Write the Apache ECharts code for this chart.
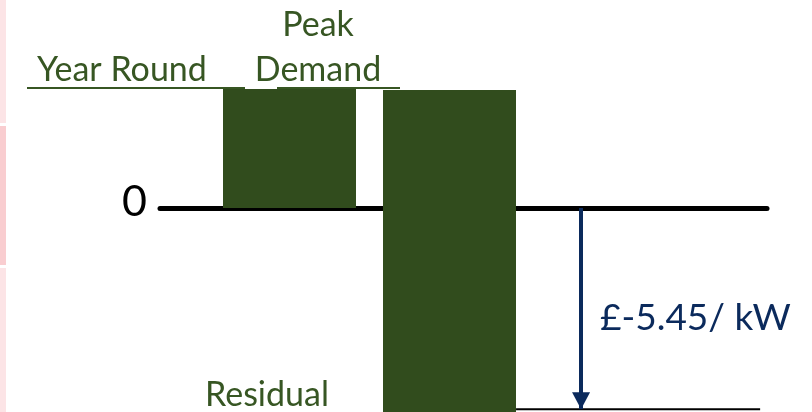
<!DOCTYPE html>
<html>
<head>
<meta charset="utf-8">
<script src="https://cdn.jsdelivr.net/npm/echarts@6/dist/echarts.min.js"></script>
<style>html,body{margin:0;padding:0;background:#fff}#c{width:812px;height:412px}</style>
</head>
<body>
<div id="c"></div>
<script>
// ---- data ----
const categories = ['Year Round', 'Peak Demand', 'Residual'];
const barX = [0.811, 1.813];            // x position of each bar (step units)
const barTop = [3.23, 3.2];             // upper ends of the bars
const barBottom = [0, -5.6];            // lower ends (bar 2 runs off the bottom)
const residualValue = -5.45;            // residual level
const residualLabel = '£-5.45/ kW';
const arrowX = 2.636;
const residualLineX = [2.229, 3.757];
const yTicks = [-5.5, 0, 5.5];

const green = '#314c1d';
const textGreen = '#375623';
const navy = '#0b2a5c';
const font = 'Lato';

const chart = echarts.init(document.getElementById('c'), null, {renderer: 'canvas'});
chart.setOption({
  animation: false,
  backgroundColor: '#fff',
  grid: {left: 160, right: 45, top: 5, bottom: 1, containLabel: false},
  xAxis: {
    type: 'value', min: 0, max: 3.8,
    axisLine: {show: true, onZero: true, lineStyle: {color: '#000', width: 5}},
    axisTick: {show: false}, axisLabel: {show: false}, splitLine: {show: false}
  },
  yAxis: {
    type: 'value', min: yTicks[0], max: yTicks[2], interval: 5.5,
    axisLine: {show: false}, axisTick: {show: false}, splitLine: {show: false},
    axisLabel: {
      formatter: v => (v === 0 ? '0' : ''),
      fontFamily: font, fontSize: 43, color: '#000', margin: 13,
      verticalAlign: 'bottom', lineHeight: 12
    }
  },
  series: [
    {
      type: 'custom',
      clip: false,
      renderItem: function (params, api) {
        const x = api.value(0);
        const top = api.coord([x, api.value(1)]);
        const bot = api.coord([x, api.value(2)]);
        const w = 133;
        return {
          type: 'rect',
          shape: {x: Math.round(top[0] - w / 2), y: Math.round(top[1]), width: w, height: Math.round(bot[1]) - Math.round(top[1])},
          style: {fill: green}
        };
      },
      z: 3,
      data: barX.map((x, i) => [x, barTop[i], barBottom[i]])
    },
    {
      type: 'line', symbol: 'none',
      lineStyle: {color: '#000', width: 2},
      data: residualLineX.map(x => [x, residualValue]),
      markLine: {
        silent: true,
        symbol: ['none', 'triangle'],
        symbolSize: [18, 17],
        symbolOffset: [[0, 0], [0, 8.5]],
        label: {show: false},
        lineStyle: {color: navy, width: 4, type: 'solid'},
        data: [[{coord: [arrowX, 0]}, {coord: [arrowX, residualValue]}]]
      }
    }
  ],
  graphic: [
    {type: 'rect', shape: {x: 0, y: 0, width: 6, height: 123}, style: {fill: '#fce4e6'}},
    {type: 'rect', shape: {x: 0, y: 126, width: 6, height: 139}, style: {fill: '#f9cdd0'}},
    {type: 'rect', shape: {x: 0, y: 268, width: 6, height: 144}, style: {fill: '#fce4e6'}},
    {type: 'line', shape: {x1: 27, y1: 88, x2: 245, y2: 88}, style: {stroke: textGreen, lineWidth: 2}},
    {type: 'line', shape: {x1: 277, y1: 88, x2: 400, y2: 88}, style: {stroke: textGreen, lineWidth: 2}},
    {type: 'text', x: 37, y: 87, style: {text: categories[0], font: '34px ' + font, fill: textGreen, textAlign: 'left', textVerticalAlign: 'bottom'}},
    {type: 'text', x: 318, y: 42, style: {text: 'Peak', font: '34px ' + font, fill: textGreen, textAlign: 'center', textVerticalAlign: 'bottom'}},
    {type: 'text', x: 318, y: 87, style: {text: 'Demand', font: '34px ' + font, fill: textGreen, textAlign: 'center', textVerticalAlign: 'bottom'}},
    {type: 'text', x: 205, y: 412, style: {text: categories[2], font: '34px ' + font, fill: textGreen, textAlign: 'left', textVerticalAlign: 'bottom'}},
    {type: 'text', x: 600, y: 337, style: {text: residualLabel, font: '37px ' + font, fill: navy, textAlign: 'left', textVerticalAlign: 'bottom'}}
  ]
});
</script>
</body>
</html>
